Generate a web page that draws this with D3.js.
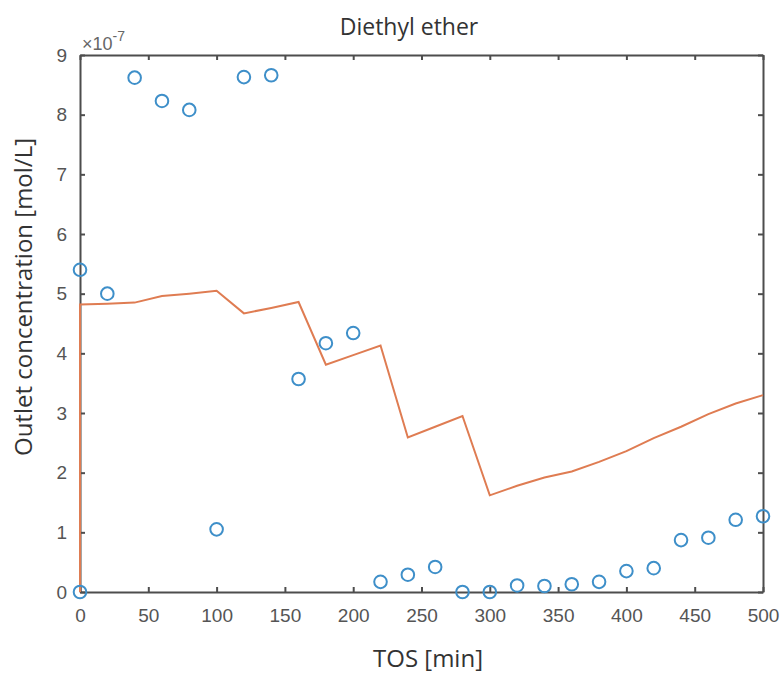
<!DOCTYPE html>
<html>
<head>
<meta charset="utf-8">
<script src="https://cdn.jsdelivr.net/npm/d3@7"></script>
<style>
  body { margin: 0; background: #fff; }
  svg { display: block; }
</style>
</head>
<body>
<div id="chart"></div>
<script>
// measured points (x10^-7 mol/L)
const measTime = [0, 0, 20, 40, 60, 80, 100, 120, 140, 160, 180, 200, 220, 240, 260,
    280, 300, 320, 340, 360, 380, 400, 420, 440, 460, 480, 500];
const measConc = [0, 5.40, 5.00, 8.62, 8.23, 8.08, 1.05, 8.63, 8.66, 3.57, 4.17, 4.34, 0.17, 0.29, 0.42,
    0, 0, 0.11, 0.10, 0.13, 0.17, 0.35, 0.40, 0.87, 0.91, 1.21, 1.27];

// model curve
const modelTime = [0, 0, 20, 40, 60, 80, 100, 120, 140, 160, 180, 200, 220, 240, 260,
    280, 300, 320, 340, 360, 380, 400, 420, 440, 460, 480, 500];
const modelConc = [0, 4.82, 4.83, 4.85, 4.96, 5.00, 5.05, 4.67, 4.76, 4.86, 3.81, 3.97, 4.13, 2.59, 2.77,
    2.95, 1.62, 1.78, 1.92, 2.02, 2.18, 2.36, 2.58, 2.77, 2.98, 3.16, 3.30];

const xTicks = [0, 50, 100, 150, 200, 250, 300, 350, 400, 450, 500];
const yTicks = [0, 1, 2, 3, 4, 5, 6, 7, 8, 9];

const width = 782, height = 675;
const margin = { top: 55, right: 19, bottom: 83, left: 80 };

const svg = d3.select("#chart").append("svg")
    .attr("width", width)
    .attr("height", height);

const x = d3.scaleLinear().domain([0, 500]).range([margin.left, width - margin.right]);
const y = d3.scaleLinear().domain([0, 9]).range([height - margin.bottom, margin.top]);

const axisColor = "#4d4d4d";
const tickFont = "'Liberation Sans', Arial, sans-serif";

const noLabel = () => "";

// box axes, ticks pointing inward on all four sides
const gx = svg.append("g")
    .attr("transform", `translate(0, ${y(0)})`)
    .call(d3.axisBottom(x).tickValues(xTicks).tickSizeInner(-5).tickSizeOuter(0).tickPadding(17));
const gxTop = svg.append("g")
    .attr("transform", `translate(0, ${y(9)})`)
    .call(d3.axisTop(x).tickValues(xTicks).tickSizeInner(-5).tickSizeOuter(0).tickFormat(noLabel));
const gy = svg.append("g")
    .attr("transform", `translate(${x(0)}, 0)`)
    .call(d3.axisLeft(y).tickValues(yTicks).tickSizeInner(-5).tickSizeOuter(0).tickPadding(13));
const gyR = svg.append("g")
    .attr("transform", `translate(${x(500)}, 0)`)
    .call(d3.axisRight(y).tickValues(yTicks).tickSizeInner(-5).tickSizeOuter(0).tickFormat(noLabel));

[gx, gxTop, gy, gyR].forEach(g => {
    g.select(".domain").attr("stroke", axisColor).attr("stroke-width", 2);
    g.selectAll(".tick line").attr("stroke", axisColor).attr("stroke-width", 2);
    g.selectAll(".tick text")
        .attr("fill", "#555")
        .style("font-family", tickFont)
        .style("font-size", "19px");
});

// model line
const line = d3.line()
    .x((d, i) => x(modelTime[i]))
    .y(d => y(d));

svg.append("path")
    .datum(modelConc)
    .attr("fill", "none")
    .attr("stroke", "#df7c52")
    .attr("stroke-width", 2)
    .attr("d", line);

// measured circles
svg.selectAll("circle.meas")
    .data(measConc)
    .enter()
    .append("circle")
    .attr("class", "meas")
    .attr("cx", (d, i) => x(measTime[i]))
    .attr("cy", d => y(d))
    .attr("r", 6.3)
    .attr("fill", "none")
    .attr("stroke", "#3e8fc9")
    .attr("stroke-width", 2);

// exponent label
const exp = svg.append("text")
    .attr("x", x(0) + 2)
    .attr("y", 50)
    .attr("fill", "#666")
    .style("font-family", tickFont)
    .style("font-size", "18px");
exp.append("tspan").text("×10");
exp.append("tspan").attr("dy", -9).style("font-size", "14px").text("-7");

const labelFont = "'Open Sans', 'Noto Sans', sans-serif";

svg.append("text")
    .attr("x", 409)
    .attr("y", 35)
    .attr("text-anchor", "middle")
    .style("font-family", labelFont)
    .style("font-size", "23px")
    .attr("fill", "#333")
    .text("Diethyl ether");

svg.append("text")
    .attr("x", 428)
    .attr("y", 667)
    .attr("text-anchor", "middle")
    .style("font-family", labelFont)
    .style("font-size", "24px")
    .attr("fill", "#333")
    .text("TOS [min]");

svg.append("text")
    .attr("transform", `translate(32, 297) rotate(-90)`)
    .attr("text-anchor", "middle")
    .style("font-family", labelFont)
    .style("font-size", "24px")
    .attr("fill", "#333")
    .text("Outlet concentration [mol/L]");
</script>
</body>
</html>
